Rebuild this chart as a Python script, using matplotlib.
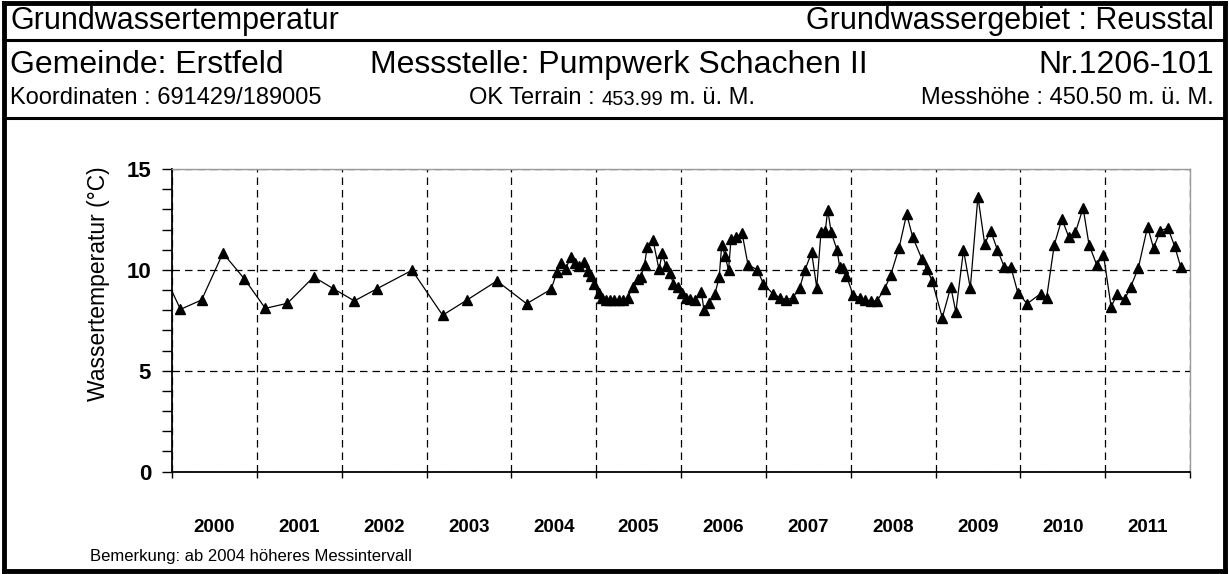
import matplotlib
matplotlib.use("Agg")
import matplotlib.pyplot as plt
from matplotlib.ticker import FixedLocator, MultipleLocator, NullFormatter
from matplotlib.lines import Line2D

plt.rcParams['font.family'] = ['Liberation Sans', 'DejaVu Sans']

# Messwerte (Datum als Dezimaljahr, Temperatur in °C)
jahr = [1999.92, 2000.10, 2000.35, 2000.60, 2000.85, 2001.10, 2001.36, 2001.67,
        2001.90, 2002.15, 2002.42, 2002.83, 2003.19, 2003.48, 2003.83, 2004.18,
        2004.47, 2004.535, 2004.58, 2004.64, 2004.70, 2004.75, 2004.80, 2004.86,
        2004.90, 2004.94, 2004.98, 2005.03, 2005.07, 2005.12, 2005.16, 2005.21,
        2005.27, 2005.32, 2005.37, 2005.43, 2005.49, 2005.525, 2005.57, 2005.60,
        2005.67, 2005.74, 2005.78, 2005.82, 2005.87, 2005.91, 2005.96, 2006.01,
        2006.06, 2006.11, 2006.17, 2006.24, 2006.27, 2006.33, 2006.40, 2006.45,
        2006.48, 2006.52, 2006.56, 2006.59, 2006.65, 2006.72, 2006.79, 2006.90,
        2006.97, 2007.08, 2007.17, 2007.24, 2007.32, 2007.40, 2007.46, 2007.54,
        2007.60, 2007.65, 2007.70, 2007.73, 2007.77, 2007.84, 2007.87, 2007.91,
        2007.95, 2008.03, 2008.11, 2008.17, 2008.24, 2008.31, 2008.40, 2008.47,
        2008.57, 2008.66, 2008.73, 2008.84, 2008.90, 2008.96, 2009.08, 2009.18,
        2009.24, 2009.33, 2009.41, 2009.50, 2009.58, 2009.65, 2009.73, 2009.81,
        2009.89, 2009.97, 2010.08, 2010.24, 2010.31, 2010.40, 2010.49, 2010.57,
        2010.65, 2010.74, 2010.81, 2010.90, 2010.98, 2011.07, 2011.14, 2011.23,
        2011.30, 2011.39, 2011.50, 2011.57, 2011.65, 2011.74, 2011.82, 2011.89]
temperatur = [9.65, 8.04, 8.51, 10.83, 9.57, 8.09, 8.34, 9.65,
              9.07, 8.46, 9.07, 9.98, 7.75, 8.51, 9.45, 8.32,
              9.04, 9.87, 10.36, 10.03, 10.65, 10.36, 10.20, 10.41,
              9.92, 9.70, 9.32, 8.87, 8.62, 8.51, 8.49, 8.49,
              8.49, 8.51, 8.59, 9.15, 9.57, 9.65, 10.25, 11.11,
              11.48, 10.03, 10.81, 10.20, 9.82, 9.32, 9.15, 8.87,
              8.62, 8.54, 8.49, 8.92, 8.01, 8.37, 8.82, 9.62,
              11.23, 10.70, 9.98, 11.53, 11.64, 11.81, 10.25, 10.00,
              9.32, 8.82, 8.62, 8.51, 8.62, 9.12, 9.98, 10.86,
              9.12, 11.86, 11.91, 12.97, 11.86, 10.98, 10.15, 10.10,
              9.70, 8.74, 8.62, 8.51, 8.46, 8.46, 9.05, 9.72,
              11.08, 12.77, 11.64, 10.53, 10.03, 9.45, 7.63, 9.15,
              7.91, 10.98, 9.09, 13.63, 11.28, 11.94, 10.99, 10.15,
              10.12, 8.87, 8.32, 8.82, 8.62, 11.24, 12.52, 11.64,
              11.86, 13.07, 11.24, 10.25, 10.75, 8.16, 8.79, 8.54,
              9.15, 10.08, 12.14, 11.08, 11.94, 12.07, 11.16, 10.15]

jahre = list(range(2000, 2013))
jahr_labels = [str(j) for j in range(2000, 2012)]
y_ticks = [0, 5, 10, 15]

W, H = 1229, 574
fig = plt.figure(figsize=(W / 100, H / 100), dpi=100)


def fx(px):
    return px / W


def fy(py):
    return 1 - py / H


ax = fig.add_axes([fx(172), fy(471.5), fx(1190) - fx(172), fy(169) - fy(471.5)])

ax.plot(jahr, temperatur, color='black', lw=0.9, marker='^', markersize=7.5,
        markerfacecolor='black', markeredgecolor='black')

ax.set_xlim(2000, 2012)
ax.set_ylim(0, 15)

# x-Achse: Striche an Jahresgrenzen, Beschriftung in Jahresmitte
ax.xaxis.set_major_locator(FixedLocator(jahre))
ax.xaxis.set_major_formatter(NullFormatter())
ax.xaxis.set_minor_locator(FixedLocator([j + 0.5 for j in range(2000, 2012)]))
ax.set_xticklabels(jahr_labels, minor=True)
ax.tick_params(axis='x', which='major', direction='out', length=4, width=1)
ax.tick_params(axis='x', which='minor', length=0, pad=34, labelsize=13.5)
for t in ax.get_xticklabels(minor=True):
    t.set_fontweight('bold')

ax.yaxis.set_major_locator(FixedLocator(y_ticks))
ax.yaxis.set_minor_locator(MultipleLocator(1))
ax.tick_params(axis='y', which='both', direction='out', length=7, width=1, pad=8)
ax.tick_params(axis='y', which='major', labelsize=16)
for t in ax.get_yticklabels():
    t.set_fontweight('bold')

ax.grid(True, which='major', color='black', lw=0.9, linestyle=(0, (6, 4)))

for s in ['left', 'bottom']:
    ax.spines[s].set_color('black')
    ax.spines[s].set_linewidth(1.3)
for s in ['top', 'right']:
    ax.spines[s].set_color('#999999')
    ax.spines[s].set_linewidth(1.0)

ax.set_ylabel('Wassertemperatur (°C)', fontsize=16.5)
ax.yaxis.set_label_coords((110 - 172) / 1018, 0.62)

# Rahmen und Kopfzeilen
rand = 3.5
for (x0, y0, x1, y1) in [(4, 3, 1225, 3), (4, 571, 1225, 571), (4, 3, 4, 571), (1225, 3, 1225, 571)]:
    fig.add_artist(Line2D([fx(x0), fx(x1)], [fy(y0), fy(y1)], color='black', lw=rand))
for yy in [40, 118]:
    fig.add_artist(Line2D([fx(4), fx(1225)], [fy(yy), fy(yy)], color='black', lw=2.2))

fig.text(fx(10), fy(21), 'Grundwassertemperatur', fontsize=22, va='center', ha='left')
fig.text(fx(1214), fy(21), 'Grundwassergebiet : Reusstal', fontsize=22, va='center', ha='right')
fig.text(fx(10), fy(65), 'Gemeinde: Erstfeld', fontsize=23, va='center', ha='left')
fig.text(fx(370), fy(65), 'Messstelle: Pumpwerk Schachen II', fontsize=23, va='center', ha='left')
fig.text(fx(1214), fy(65), 'Nr.1206-101', fontsize=23, va='center', ha='right')

fig.text(fx(10), fy(98), 'Koordinaten : 691429/189005', fontsize=17, va='center', ha='left')
t1 = fig.text(fx(469), fy(98), 'OK Terrain : ', fontsize=17, va='center', ha='left')
a = ax.annotate('453.99', xy=(1, 0), xycoords=t1, fontsize=14.5, va='bottom', ha='left',
                annotation_clip=False)
ax.annotate(' m. ü. M.', xy=(1, 0), xycoords=a, fontsize=17, va='bottom', ha='left',
            annotation_clip=False)
fig.text(fx(1214), fy(98), 'Messhöhe : 450.50 m. ü. M.', fontsize=17, va='center', ha='right')

fig.text(fx(90), fy(556), 'Bemerkung: ab 2004 höheres Messintervall', fontsize=12,
         va='center', ha='left')

fig.savefig('out.png', dpi=100)
